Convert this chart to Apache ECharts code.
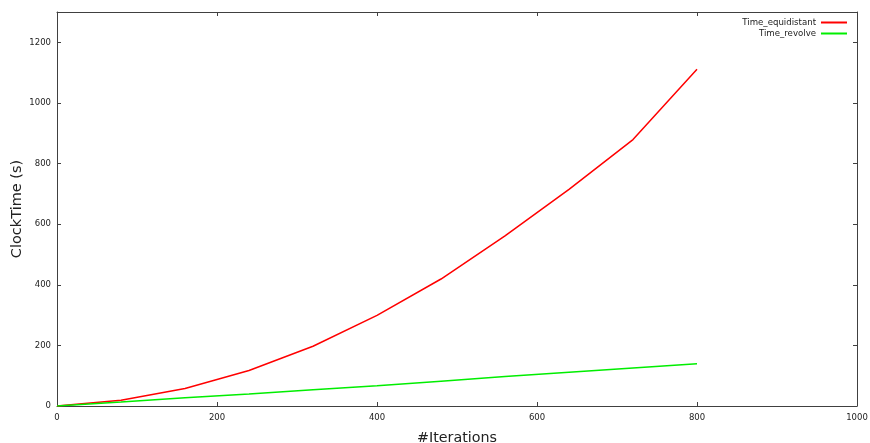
<!DOCTYPE html>
<html>
<head>
<meta charset="utf-8">
<script src="https://cdn.jsdelivr.net/npm/echarts@6/dist/echarts.min.js"></script>
<style>
html,body{margin:0;padding:0;background:#fff;}
#chart{width:870px;height:443px;}
</style>
</head>
<body>
<div id="chart"></div>
<script>
const iterations = [0, 80, 160, 240, 320, 400, 480, 560, 640, 720, 800];
const timeEquidistant = [0, 19, 58, 117, 197, 299, 419, 561, 715, 879, 1111];
const timeRevolve = [0, 13, 27, 40, 54, 67, 82, 97, 111, 125, 139];
const seriesNames = ['Time_equidistant', 'Time_revolve'];
const xTitle = '#Iterations';
const yTitle = 'ClockTime (s)';

const FONT = 'DejaVu Sans';
const AX = '#404040';
const chart = echarts.init(document.getElementById('chart'), null, {renderer: 'canvas'});

const pair = (xs, ys) => xs.map((x, i) => [x, ys[i]]);
const plain = v => String(v);

const frameAxis = {
  axisLine: {show: true, onZero: false, lineStyle: {color: AX, width: 1}},
  axisTick: {show: true, inside: true, length: 4, lineStyle: {color: AX}},
  splitLine: {show: false}
};

const legendBase = {
  orient: 'vertical', right: 23, padding: 0,
  align: 'right', icon: 'rect', itemWidth: 26, itemHeight: 2, itemGap: 0,
  textStyle: {fontFamily: FONT, fontSize: 8.6, color: '#222', lineHeight: 11}
};

chart.setOption({
  animation: false,
  backgroundColor: '#fff',
  textStyle: {fontFamily: FONT},
  grid: {left: 57, right: 13, top: 12, bottom: 37, containLabel: false, outerBoundsMode: 'none'},
  legend: [
    Object.assign({data: [seriesNames[0]], top: 17}, legendBase),
    Object.assign({data: [seriesNames[1]], top: 28}, legendBase)
  ],
  xAxis: [
    Object.assign({
      type: 'value', min: 0, max: 1000, interval: 200, position: 'bottom',
      name: xTitle, nameLocation: 'middle', nameGap: 25,
      nameTextStyle: {fontFamily: FONT, fontSize: 14.3, color: '#222'},
      axisLabel: {fontFamily: FONT, fontSize: 8.5, color: '#222', margin: 7, formatter: plain}
    }, frameAxis),
    Object.assign({
      type: 'value', min: 0, max: 1000, interval: 200, position: 'top',
      axisLabel: {show: false}
    }, frameAxis)
  ],
  yAxis: [
    Object.assign({
      type: 'value', min: 0, max: 1300, interval: 200, position: 'left',
      name: yTitle, nameLocation: 'middle', nameGap: 32, nameRotate: 90,
      nameMoveOverlap: false,
      nameTextStyle: {fontFamily: FONT, fontSize: 14.5, color: '#222'},
      axisLabel: {fontFamily: FONT, fontSize: 8.5, color: '#222', margin: 6,
        showMaxLabel: false, formatter: plain}
    }, frameAxis),
    Object.assign({
      type: 'value', min: 0, max: 1300, interval: 200, position: 'right',
      axisLabel: {show: false}
    }, frameAxis)
  ],
  series: [
    {
      name: seriesNames[0], type: 'line', xAxisIndex: 0, yAxisIndex: 0,
      data: pair(iterations, timeEquidistant),
      showSymbol: false, symbol: 'none',
      lineStyle: {color: '#ff0000', width: 1.5}, itemStyle: {color: '#ff0000'}
    },
    {
      name: seriesNames[1], type: 'line', xAxisIndex: 0, yAxisIndex: 0,
      data: pair(iterations, timeRevolve),
      showSymbol: false, symbol: 'none',
      lineStyle: {color: '#00ee00', width: 1.5}, itemStyle: {color: '#00ee00'}
    }
  ]
});
</script>
</body>
</html>
